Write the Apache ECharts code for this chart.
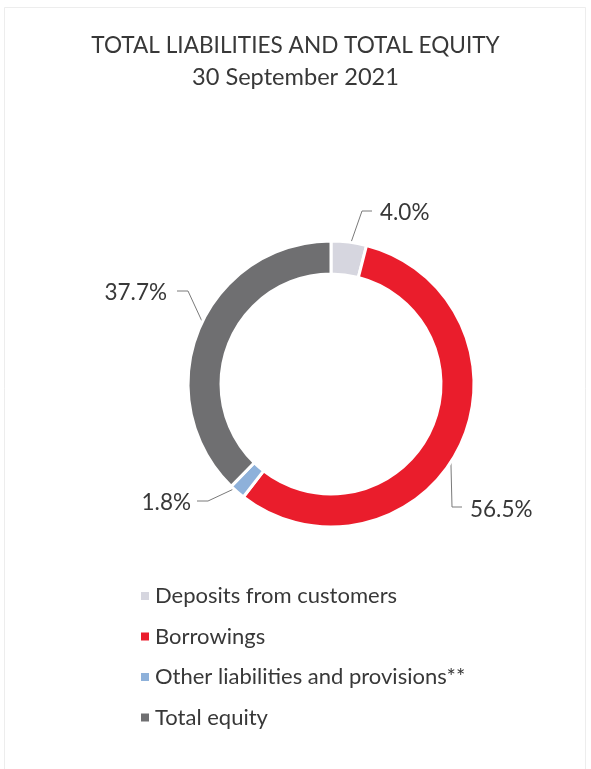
<!DOCTYPE html>
<html>
<head>
<meta charset="utf-8">
<script src="https://cdn.jsdelivr.net/npm/echarts@6/dist/echarts.min.js"></script>
<style>
  html, body { margin: 0; padding: 0; background: #ffffff; }
  #chart { width: 591px; height: 769px; }
</style>
</head>
<body>
<div id="chart"></div>
<script>
// Composition of total liabilities and total equity, 30 September 2021 (% of total)
const categories = [
  'Deposits from customers',
  'Borrowings',
  'Other liabilities and provisions**',
  'Total equity'
];
const shares = [4.0, 56.5, 1.8, 37.7];
const sliceColors = ['#d6d6df', '#ea1d2c', '#8eb1da', '#6f6f71'];

const titleText = 'TOTAL LIABILITIES AND TOTAL EQUITY';
const subtitleText = '30 September 2021';

// Ring geometry (px)
const CX = 331, CY = 384;
const R_INNER = 110, R_OUTER = 143;

// Where each percentage label sits, relative to the ring centre,
// plus how its leader line meets the text.
const labelSpots = [
  { dx: 49,   dy: -171, align: 'left',  gap: 8,  bend: 18, lift: -2 },
  { dx: 139,  dy: 126,  align: 'left',  gap: 8,  bend: 18, lift: -3 },
  { dx: -140, dy: 119,  align: 'right', gap: 6,  bend: 17, lift: -2 },
  { dx: -164, dy: -91,  align: 'right', gap: 10, bend: 21, lift: -2 }
];

const FONT = 'Lato';
const TEXT = '#383838';

const chart = echarts.init(document.getElementById('chart'), null, { renderer: 'canvas' });

chart.setOption({
  backgroundColor: '#ffffff',
  animation: false,
  graphic: [{
    type: 'rect',
    shape: { x: 4.5, y: 7.5, width: 581, height: 770 },
    style: { fill: 'none', stroke: '#ededed', lineWidth: 1 },
    silent: true,
    z: -1
  }],
  title: [
    {
      text: titleText,
      left: 'center',
      top: 29,
      textStyle: { fontFamily: FONT, fontSize: 22.6, fontWeight: 'normal', color: TEXT }
    },
    {
      text: subtitleText,
      left: 'center',
      top: 60,
      textStyle: { fontFamily: FONT, fontSize: 23.6, fontWeight: 'normal', color: TEXT }
    }
  ],
  legend: {
    orient: 'vertical',
    left: 134,
    top: 580,
    itemWidth: 10,
    itemHeight: 10,
    itemGap: 18.5,
    icon: 'rect',
    selectedMode: false,
    data: categories,
    textStyle: { fontFamily: FONT, fontSize: 22, color: TEXT }
  },
  series: [{
    type: 'pie',
    center: [CX, CY],
    radius: [R_INNER, R_OUTER],
    startAngle: 90,
    clockwise: true,
    avoidLabelOverlap: false,
    itemStyle: { borderColor: '#ffffff', borderWidth: 3 },
    label: {
      show: true,
      position: 'outside',
      fontFamily: FONT,
      fontSize: 22.5,
      color: TEXT,
      formatter: p => p.value.toFixed(1) + '%'
    },
    labelLine: {
      show: true,
      length: 20,
      length2: 10,
      lineStyle: { color: '#7a7a7a', width: 1 }
    },
    labelLayout: function (p) {
      const s = labelSpots[p.dataIndex];
      const x = CX + s.dx, y = CY + s.dy;
      const p0 = p.labelLinePoints[0];
      // start the leader a little inside the ring
      const start = [CX + (p0[0] - CX) * 0.93, CY + (p0[1] - CY) * 0.93];
      const side = s.align === 'left' ? -1 : 1;
      return {
        x: x,
        y: y,
        align: s.align,
        verticalAlign: 'middle',
        labelLinePoints: [
          start,
          [x + side * s.bend, y + s.lift],
          [x + side * s.gap, y + s.lift]
        ]
      };
    },
    emphasis: { disabled: true },
    data: categories.map((name, i) => ({
      name: name,
      value: shares[i],
      itemStyle: { color: sliceColors[i] }
    }))
  }]
});
</script>
</body>
</html>
